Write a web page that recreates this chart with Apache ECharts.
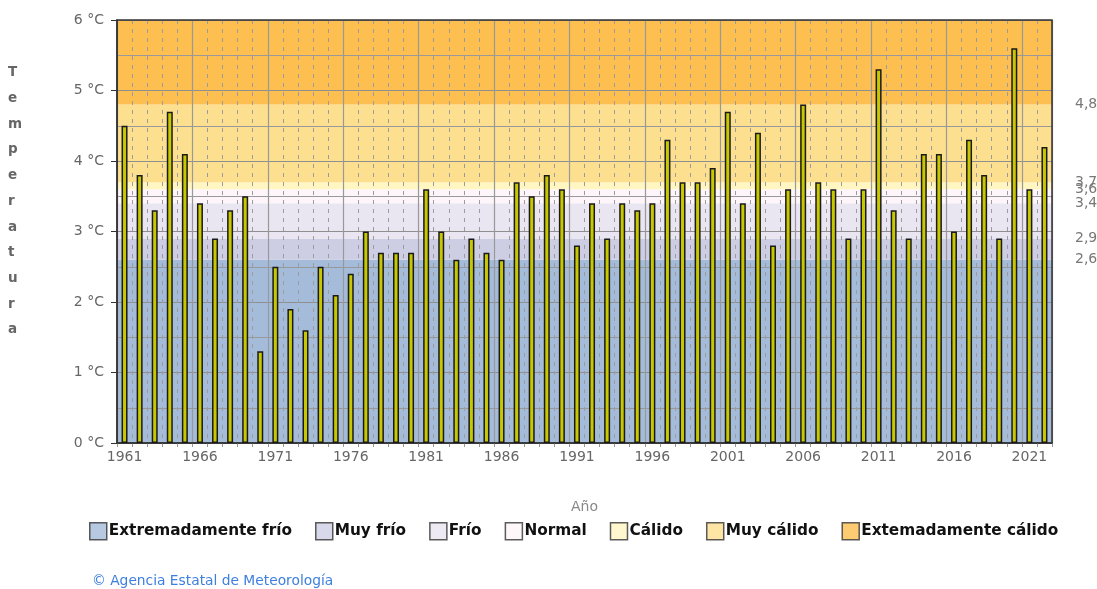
<!DOCTYPE html>
<html>
<head>
<meta charset="utf-8">
<script src="https://cdn.jsdelivr.net/npm/echarts@6/dist/echarts.min.js"></script>
<style>
html,body{margin:0;padding:0;background:#fff;}
#chart{width:1097px;height:589px;}
</style>
</head>
<body>
<div id="chart"></div>
<script>
const years = ['1961','1962','1963','1964','1965','1966','1967','1968','1969','1970',
  '1971','1972','1973','1974','1975','1976','1977','1978','1979','1980',
  '1981','1982','1983','1984','1985','1986','1987','1988','1989','1990',
  '1991','1992','1993','1994','1995','1996','1997','1998','1999','2000',
  '2001','2002','2003','2004','2005','2006','2007','2008','2009','2010',
  '2011','2012','2013','2014','2015','2016','2017','2018','2019','2020',
  '2021','2022'];
const temperatures = [4.5,3.8,3.3,4.7,4.1,3.4,2.9,3.3,3.5,1.3,
  2.5,1.9,1.6,2.5,2.1,2.4,3.0,2.7,2.7,2.7,
  3.6,3.0,2.6,2.9,2.7,2.6,3.7,3.5,3.8,3.6,
  2.8,3.4,2.9,3.4,3.3,3.4,4.3,3.7,3.7,3.9,
  4.7,3.4,4.4,2.8,3.6,4.8,3.7,3.6,2.9,3.6,
  5.3,3.3,2.9,4.1,4.1,3.0,4.3,3.8,2.9,5.6,
  3.6,4.2];
const bandNames = ['Extremadamente frío','Muy frío','Frío','Normal','Cálido','Muy cálido','Extemadamente cálido'];
const bandLimits = [0, 2.6, 2.9, 3.4, 3.6, 3.7, 4.8, 6];
const bandColors = ['#a4bcda','#cdcee4','#e9e5f1','#fdf5f9','#fff6c2','#fde08f','#fdbf4f'];
const thresholdLabels = [4.8, 3.7, 3.6, 3.4, 2.9, 2.6];

const chart = echarts.init(document.getElementById('chart'), null, {renderer:'canvas'});
const FONT = 'DejaVu Sans';

const bandSeries = bandNames.map((n, i) => ({
  name: n,
  type: 'scatter',
  data: [],
  z: 0,
  itemStyle: {color: bandColors[i]},
  markArea: {
    silent: true,
    z: 0,
    itemStyle: {color: bandColors[i], borderWidth: 0, opacity: 1},
    data: [[{yAxis: bandLimits[i]}, {yAxis: bandLimits[i + 1]}]]
  }
}));

const option = {
  animation: false,
  backgroundColor: '#fff',
  textStyle: {fontFamily: FONT},
  title: [
    {
      text: 'T\ne\nm\np\ne\nr\na\nt\nu\nr\na',
      left: 3, top: 55,
      textStyle: {fontFamily: FONT, fontSize: 13.5, fontWeight: 'bold', color: '#666', lineHeight: 25.7, align: 'center', width: 10}
    },
    {
      text: '© Agencia Estatal de Meteorología',
      left: 87, top: 569,
      textStyle: {fontFamily: FONT, fontSize: 13.8, fontWeight: 'normal', color: '#3d7fe0'}
    }
  ],
  legend: {
    data: bandNames,
    left: 84, top: 517,
    icon: 'rect',
    itemWidth: 17, itemHeight: 17,
    itemGap: 23,
    itemStyle: {borderColor: '#333', borderWidth: 1.5},
    textStyle: {fontFamily: FONT, fontSize: 15.3, fontWeight: 'bold', color: '#111', padding: [0, 0, 0, -3]},
    selectedMode: false
  },
  grid: {
    left: 117, right: 45, top: 20, bottom: 146,
    outerBoundsMode: 'none', containLabel: false,
    show: true, borderColor: '#333', borderWidth: 1.5, backgroundColor: 'transparent', z: 3
  },
  xAxis: [
    {
      type: 'category', data: years, z: 2,
      name: 'Año', nameLocation: 'middle', nameGap: 57,
      nameTextStyle: {fontFamily: FONT, fontSize: 14, color: '#888'},
      axisLine: {lineStyle: {color: '#333', width: 1.5}},
      axisTick: {show: true, interval: 0, length: 4, lineStyle: {color: '#999'}},
      axisLabel: {interval: 4, fontFamily: FONT, fontSize: 14, color: '#666', margin: 7},
      splitLine: {show: true, interval: 0, lineStyle: {color: '#9c9c9c', type: [4, 5], width: 1}}
    },
    {
      type: 'category', data: years, z: 2, position: 'bottom',
      axisLine: {show: false}, axisTick: {show: false}, axisLabel: {show: false},
      splitLine: {show: true, interval: 4, lineStyle: {color: '#999', width: 1.2}}
    }
  ],
  yAxis: [
    {
      type: 'value', min: 0, max: 6, interval: 1, z: 2,
      axisLine: {show: true, lineStyle: {color: '#333', width: 1.5}},
      axisTick: {show: true, length: 6, lineStyle: {color: '#333'}},
      axisLabel: {formatter: v => v + ' °C', fontFamily: FONT, fontSize: 14, color: '#666', margin: 13},
      splitLine: {show: true, lineStyle: {color: '#8f8f8f', width: 1.2}},
      minorTick: {show: false, splitNumber: 2},
      minorSplitLine: {show: true, lineStyle: {color: '#999', width: 1.2}}
    },
    {
      type: 'value', min: 0, max: 6, position: 'right', z: 2,
      axisLine: {show: false}, axisTick: {show: false}, splitLine: {show: false},
      axisLabel: {
        customValues: thresholdLabels,
        formatter: v => String(v).replace('.', ','),
        fontFamily: FONT, fontSize: 14, color: '#777', margin: 23
      }
    }
  ],
  series: [
    ...bandSeries,
    {
      name: 'Temperatura',
      type: 'bar',
      data: temperatures,
      barWidth: 6,
      z: 4,
      itemStyle: {color: '#c8c800', borderColor: '#1a1a1a', borderWidth: 1.5}
    }
  ]
};
chart.setOption(option);
</script>
</body>
</html>
